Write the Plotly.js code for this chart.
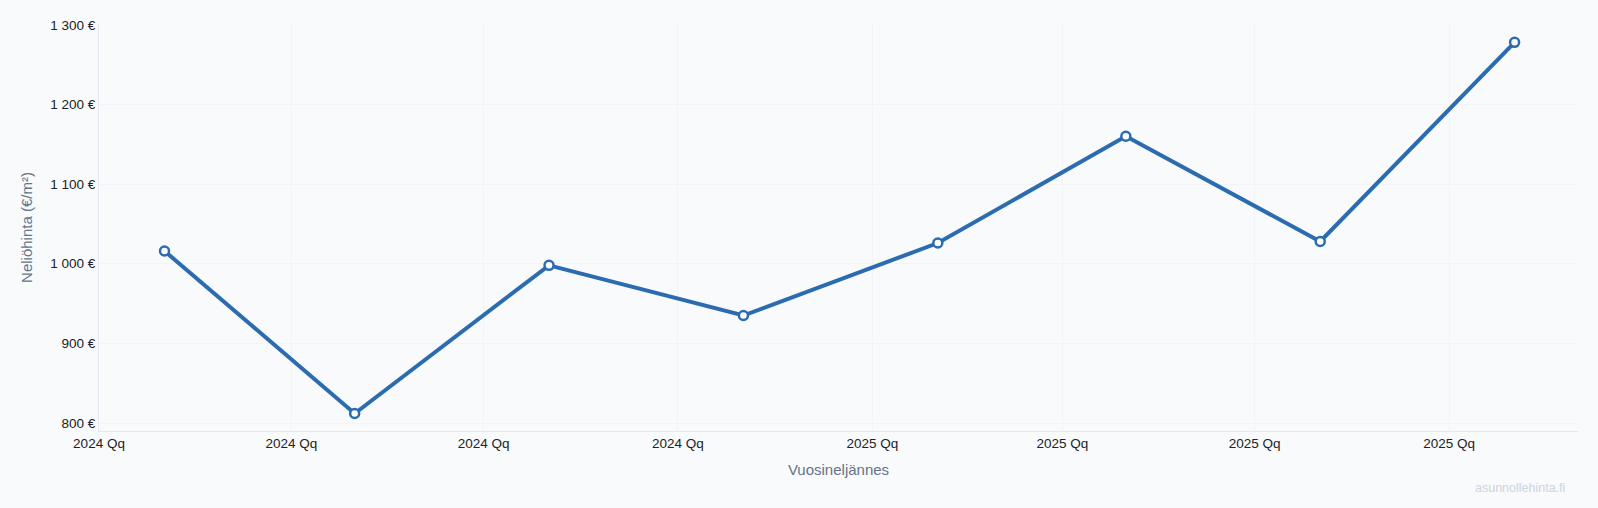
<!DOCTYPE html>
<html>
<head>
<meta charset="utf-8">
<script src="https://cdn.plot.ly/plotly-3.0.1.min.js"></script>
<style>
  html, body { margin: 0; padding: 0; background: #f8fafc; }
  #chart { width: 1598px; height: 508px; }
</style>
</head>
<body>
<div id="chart"></div>
<script>
// quarterly price per m2, plotted at the 1st of each quarter's middle month
const quarterDates = ["2024-02-01", "2024-05-01", "2024-08-01", "2024-11-01",
                      "2025-02-01", "2025-05-01", "2025-08-01", "2025-11-01"];
const pricePerSqm = [1016, 812, 998, 935, 1026, 1160, 1028, 1278];

// x tick labels (as shown in the original, quarter token not expanded)
const tickDates = ["2024-01-01", "2024-04-01", "2024-07-01", "2024-10-01",
                   "2025-01-01", "2025-04-01", "2025-07-01", "2025-10-01"];
const tickLabels = ["2024 Qq", "2024 Qq", "2024 Qq", "2024 Qq",
                    "2025 Qq", "2025 Qq", "2025 Qq", "2025 Qq"];

const lineColor = "#2b6cb0";

let trace = {
  type: "scatter",
  mode: "lines+markers",
  x: quarterDates,
  y: pricePerSqm,
  line: { color: lineColor, width: 4 },
  marker: { size: 9, color: "#ffffff", line: { color: lineColor, width: 2.5 } },
  hoverinfo: "x+y",
  showlegend: false
};

let layout = {
  width: 1598,
  height: 508,
  paper_bgcolor: "#f8fafc",
  plot_bgcolor: "#f8fafc",
  separators: ", ",
  font: { family: "Liberation Sans, Arial, sans-serif", size: 13.5, color: "#222222" },
  margin: { l: 99, r: 20, t: 24, b: 77, pad: 0 },
  xaxis: {
    type: "date",
    range: ["2024-01-01", "2025-12-01"],
    tickvals: tickDates,
    ticktext: tickLabels,
    showgrid: true,
    gridcolor: "#f1f4f8",
    gridwidth: 1,
    zeroline: false,
    showline: true,
    linecolor: "#e2e8f0",
    linewidth: 1,
    ticks: "",
    tickfont: { size: 13.5, color: "#222222" },
    title: { text: "Vuosineljännes", font: { size: 15, color: "#64748b" }, standoff: 14 }
  },
  yaxis: {
    range: [790, 1301],
    dtick: 100,
    tick0: 800,
    ticksuffix: " €",
    separatethousands: true,
    showgrid: true,
    gridcolor: "#f1f4f8",
    gridwidth: 1,
    zeroline: false,
    showline: true,
    linecolor: "#e2e8f0",
    linewidth: 1,
    ticks: "",
    tickfont: { size: 13.5, color: "#222222" },
    title: { text: "Neliöhinta (€/m²)", font: { size: 15, color: "#64748b" }, standoff: 14 }
  },
  annotations: [{
    text: "asunnollehinta.fi",
    xref: "paper", yref: "paper",
    x: 1.0, y: -0.14,
    xanchor: "right", yanchor: "middle",
    xshift: -11,
    showarrow: false,
    font: { size: 12.5, color: "#cbd5e1" }
  }]
};

Plotly.newPlot("chart", [trace], layout, { displayModeBar: false, staticPlot: true });
</script>
</body>
</html>
